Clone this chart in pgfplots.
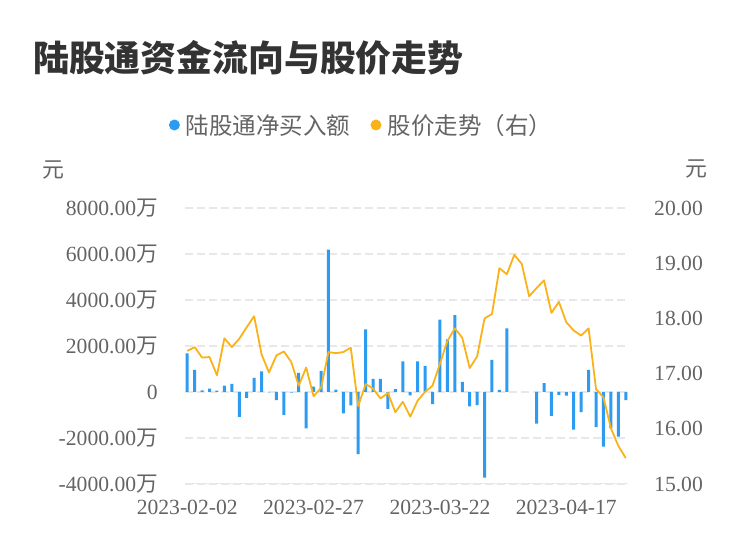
\documentclass[border=0pt]{standalone}
\usepackage{fontspec}
\setmainfont{Liberation Serif}
\newfontfamily\cjk{Noto Sans CJK SC}
\usepackage{pgfplots}
\usepackage{pgfplotstable}
\pgfplotsset{compat=1.18}

\definecolor{netblue}{RGB}{45,155,240}
\definecolor{priceorange}{RGB}{250,178,25}
\definecolor{txtgray}{RGB}{100,100,100}
\definecolor{titlegray}{RGB}{51,51,51}
\definecolor{gridgray}{RGB}{232,232,232}

% net buy (wan yuan), trading day index
\pgfplotstableread{
idx net
0 1680
1 960
2 70
3 150
4 60
5 280
6 350
7 -1080
8 -260
9 610
10 900
11 -20
12 -350
13 -990
14 -30
15 830
16 -1580
17 230
18 920
19 6190
20 100
21 -930
22 -580
23 -2700
24 2720
25 570
26 570
27 -730
28 130
29 1330
30 -150
31 1330
32 1120
33 -530
34 3150
35 2290
36 3340
37 440
38 -630
39 -570
40 -3720
41 1400
42 90
43 2770
47 -1370
48 390
49 -1040
50 -130
51 -160
52 -1640
53 -880
54 960
55 -1530
56 -2380
57 -1580
58 -1940
59 -350
}\netdata

% share price (yuan)
\pgfplotstableread{
idx price
0 17.41
1 17.48
2 17.29
3 17.30
4 16.97
5 17.64
6 17.48
7 17.63
8 17.84
9 18.04
10 17.35
11 17.02
12 17.33
13 17.40
14 17.21
15 16.78
16 17.11
17 16.59
18 16.74
19 17.39
20 17.37
21 17.39
22 17.47
23 16.41
24 16.81
25 16.73
26 16.55
27 16.65
28 16.30
29 16.49
30 16.22
31 16.51
32 16.67
33 16.78
34 17.18
35 17.59
36 17.82
37 17.65
38 17.10
39 17.31
40 18.00
41 18.08
42 18.91
43 18.80
44 19.15
45 18.99
46 18.40
47 18.55
48 18.69
49 18.10
50 18.30
51 17.93
52 17.78
53 17.69
54 17.82
55 16.72
56 16.57
57 16.01
58 15.69
59 15.47
}\pricedata

\pgfplotsset{
  base/.style={
    scale only axis,
    width=443bp, height=276bp,
    at={(185bp,74bp)}, anchor=south west,
    xmin=-0.3, xmax=59.3,
    axis line style={draw=none},
    major tick length=0pt,
    tick label style={font=\fontsize{21.7}{24}\selectfont, text=txtgray, inner sep=0pt},
  },
  dot legend/.style={legend image code/.code={%
    \fill[#1] (0,0) circle (5.5bp);
    \path[draw=none, fill=none] (-5.5bp,0) -- (9.5bp,0);}},
}

\begin{document}
\begin{tikzpicture}
\path[use as bounding box] (0,0) rectangle (750bp,558bp);

\begin{axis}[base,
    ymin=-4000, ymax=8000,
    ytick={-4000,-2000,0,2000,4000,6000,8000},
    yticklabels={-4000.00{\cjk 万},-2000.00{\cjk 万},0,2000.00{\cjk 万},4000.00{\cjk 万},6000.00{\cjk 万},8000.00{\cjk 万}},
    yticklabel shift=27bp,
    xtick={0,17,34,51},
    xticklabels={2023-02-02,2023-02-27,2023-03-22,2023-04-17},
    xticklabel shift=16bp,
    ymajorgrids,
    grid style={draw=gridgray, line width=1.5bp, dash pattern=on 8bp off 4bp},
    legend style={draw=none, fill=none, at={(0.3984,1.3007)}, anchor=center,
      legend columns=-1, font=\cjk\fontsize{23.6}{26}\selectfont, text=txtgray,
      inner sep=0pt,
      /tikz/every even column/.append style={column sep=18bp}},
    legend cell align=left,
  ]
  \draw[gridgray, line width=1.5bp] (axis cs:-0.3,-4000) -- (axis cs:59.3,-4000);
  \addplot[ybar, bar width=3bp, fill=netblue, draw=none, dot legend=netblue]
    table[x=idx, y=net] {\netdata};
  \addlegendentry{陆股通净买入额}
  \addlegendimage{draw=none, dot legend=priceorange}
  \addlegendentry{股价走势（右）}
\end{axis}

\begin{axis}[base,
    ymin=15, ymax=20,
    ytick={15,16,17,18,19,20},
    yticklabels={15.00,16.00,17.00,18.00,19.00,20.00},
    yticklabel shift=26bp,
    axis y line*=right,
    yticklabel style={anchor=west},
    xtick=\empty,
  ]
  \addplot[priceorange, line width=1.8bp, no marks, line join=round]
    table[x=idx, y=price] {\pricedata};
\end{axis}

\node[anchor=base west, inner sep=0pt, text=titlegray, font=\cjk\bfseries\fontsize{36}{40}\selectfont]
  at (33bp,486.5bp) {陆股通资金流向与股价走势};
\node[anchor=center, inner sep=0pt, text=txtgray, font=\cjk\fontsize{22}{24}\selectfont]
  at (53.5bp,388bp) {元};
\node[anchor=center, inner sep=0pt, text=txtgray, font=\cjk\fontsize{22}{24}\selectfont]
  at (696bp,389bp) {元};
\end{tikzpicture}
\end{document}
